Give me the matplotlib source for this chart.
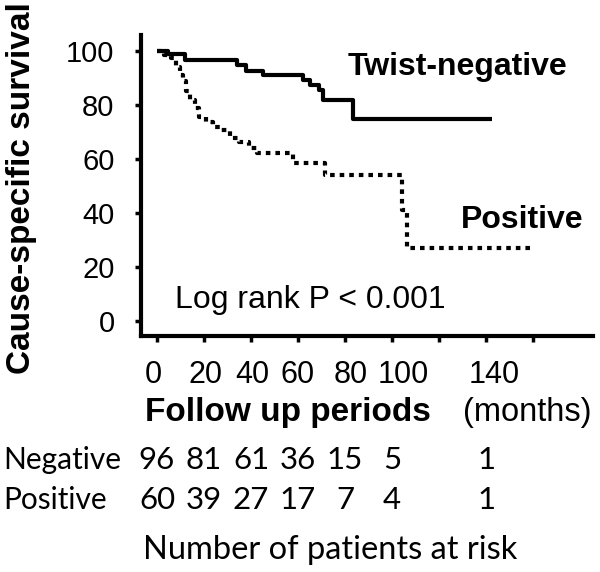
import matplotlib

matplotlib.use("Agg")

import matplotlib.pyplot as plt
import matplotlib.transforms as mtransforms

# Kaplan-Meier steps (months, % surviving)
neg_times = [0, 4.7, 12, 34, 38, 45, 62, 65, 69, 70.5, 83.4, 142.5]
neg_surv = [100, 99, 96.7, 94.8, 92.6, 91.1, 89.3, 87.4, 85.6, 81.9, 74.8, 74.8]

pos_times = [0, 3, 6, 8, 10, 11, 12.5, 14, 16, 18, 21, 24, 27, 31, 35, 39,
             42.5, 58, 71.5, 104.3, 106.4, 160]
pos_surv = [100, 98.5, 97.4, 94, 91, 89, 85, 81.9, 79, 75.6, 73.5, 72, 70.7,
            67.8, 66.3, 64, 62.2, 58.5, 54, 41, 27, 27]

xticks = [0, 20, 40, 60, 80, 100, 120, 140, 160]
xtick_labels = ["0", "20", "40", "60", "80", "100", "", "140", ""]
yticks = [0, 20, 40, 60, 80, 100]

risk_times = [0, 20, 40, 60, 80, 100, 140]
risk_negative = [96, 81, 61, 36, 15, 5, 1]
risk_positive = [60, 39, 27, 17, 7, 4, 1]

ARIAL = "Liberation Sans"
CALIBRI = "Lato"

W, H = 600, 572

# small horizontal nudges (pixels) of the x tick labels, as in the source figure
XLABEL_NUDGE = [-4, 2, 1, 0, 6, 11, 0, 8, 0]


def fx(px):
    return px / W


def fy(py):
    return 1 - py / H


fig = plt.figure(figsize=(6, 5.72), dpi=100)
ax = fig.add_axes([fx(141), fy(336), fx(593) - fx(141), fy(35) - fy(336)])

ax.step(neg_times, neg_surv, where="post", color="black", lw=3, solid_capstyle="butt")
ax.step(pos_times, pos_surv, where="post", color="black", lw=3,
        linestyle=(0, (1.1, 1.2)), dash_capstyle="butt")

ax.set_xlim(-6.8, 185.5)
ax.set_ylim(-5.6, 105.9)

for side in ("top", "right"):
    ax.spines[side].set_visible(False)
for side in ("left", "bottom"):
    ax.spines[side].set_linewidth(3)

ax.set_xticks(xticks)
ax.set_xticklabels(xtick_labels, fontfamily=ARIAL, fontsize=22)
ax.set_yticks(yticks)
ax.set_yticklabels([str(v) for v in yticks], fontfamily=ARIAL, fontsize=21)
ax.tick_params(axis="both", direction="out", length=4, width=2.5)
ax.tick_params(axis="x", pad=13)
ax.tick_params(axis="y", pad=15)

for label, dx in zip(ax.get_xticklabels(), XLABEL_NUDGE):
    offset = mtransforms.ScaledTranslation(dx / 100, 0, fig.dpi_scale_trans)
    label.set_transform(label.get_transform() + offset)

ax.text(80.9, 94, "Twist-negative", fontfamily=ARIAL, fontweight="bold",
        fontsize=23, ha="left", va="center")
ax.text(129.4, 37.4, "Positive", fontfamily=ARIAL, fontweight="bold",
        fontsize=23, ha="left", va="center")
ax.text(7.7, 7.8, "Log rank P < 0.001", fontfamily=ARIAL, fontsize=23,
        ha="left", va="center")

fig.text(fx(22), fy(188), "Cause-specific survival", rotation=90,
         fontfamily=ARIAL, fontweight="bold", fontsize=24,
         ha="center", va="center")

fig.text(fx(145), fy(413), "Follow up periods", fontfamily=ARIAL,
         fontweight="bold", fontsize=24, ha="left", va="center")
fig.text(fx(463), fy(413), "(months)", fontfamily=ARIAL, fontsize=23.5,
         ha="left", va="center")

# at-risk table
blend = mtransforms.blended_transform_factory(ax.transData, fig.transFigure)
fig.text(fx(3), fy(460), "Negative", fontfamily=CALIBRI, fontsize=21.5,
         ha="left", va="center")
fig.text(fx(3), fy(500), "Positive", fontfamily=CALIBRI, fontsize=21.5,
         ha="left", va="center")
for t, n_neg, n_pos in zip(risk_times, risk_negative, risk_positive):
    ax.text(t, fy(460), str(n_neg), transform=blend, fontfamily=CALIBRI,
            fontsize=22.5, ha="center", va="center", clip_on=False)
    ax.text(t, fy(500), str(n_pos), transform=blend, fontfamily=CALIBRI,
            fontsize=22.5, ha="center", va="center", clip_on=False)
fig.text(fx(143), fy(550), "Number of patients at risk", fontfamily=CALIBRI,
         fontsize=23.5, ha="left", va="center")

fig.savefig("out.png", dpi=100)
